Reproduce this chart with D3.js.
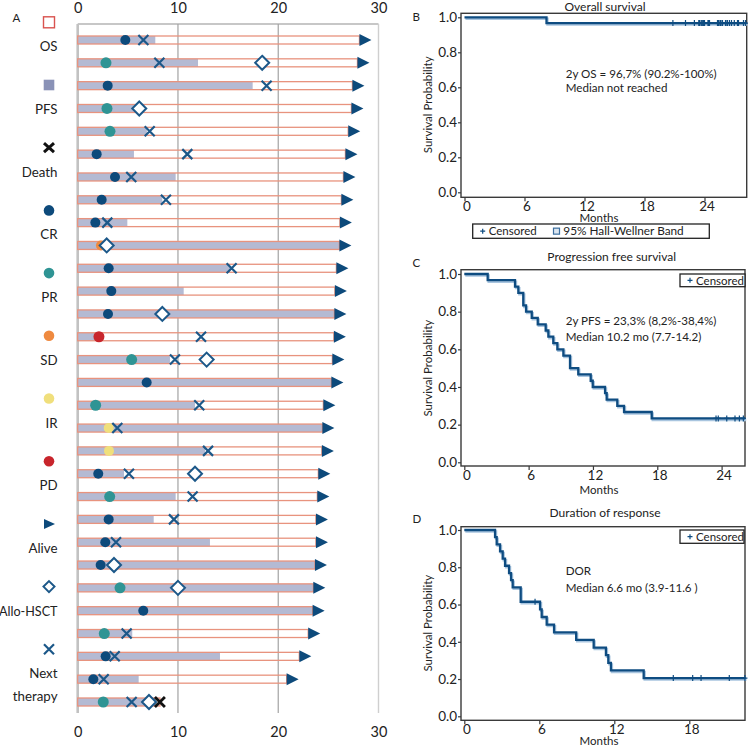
<!DOCTYPE html>
<html><head><meta charset="utf-8">
<script src="https://cdn.jsdelivr.net/npm/d3@7"></script>
<style>
body{margin:0;background:#fff}
svg{display:block}
text{font-family:Lato,"Open Sans",sans-serif;fill:#222}
</style>
</head><body>
<svg id="c" width="750" height="746"></svg>
<script>
// ---------- Swimmer plot data (months) ----------
const osEnd  = [28.1,27.9,27.4,27.3,26.98,26.7,26.5,26.3,26.15,26.1,25.8,25.65,25.6,25.55,25.4,25.3,24.5,24.4,24.35,24.0,23.9,23.76,23.76,23.66,23.5,23.43,22.99,22.1,20.84,8.2];
const pfsEnd = [7.74,12.0,17.45,5.9,6.9,5.61,9.77,8.44,4.95,26.1,15.2,10.57,25.6,1.9,9.2,25.3,11.7,24.4,12.7,4.62,9.77,7.58,13.19,23.66,23.5,23.43,5.44,14.19,6.08,7.87];
const alive  = [1,1,1,1,1,1,1,1,1,1,1,1,1,1,1,1,1,1,1,1,1,1,1,1,1,1,1,1,1,0];
const resp   = ["CR","PR","CR","PR","PR","CR","CR","CR","CR","SD","CR","CR","CR","PD","PR","CR","PR","IR","IR","CR","PR","CR","CR","CR","PR","CR","PR","CR","CR","PR"];
const respT  = [4.75,2.82,2.99,2.92,3.22,1.89,3.72,2.39,1.76,2.32,3.09,3.35,3.02,2.12,5.38,6.88,1.79,3.09,3.12,2.05,3.19,3.09,2.75,2.29,4.22,6.54,2.65,2.79,1.56,2.55];
const nextT  = [6.55,8.14,18.84,null,7.18,10.93,5.34,8.8,2.95,null,15.35,null,null,12.3,9.7,null,12.12,3.95,13.0,5.11,11.46,9.6,3.82,null,null,null,4.88,3.69,2.59,5.38];
const hsctT  = [null,18.4,null,6.14,null,null,null,null,null,2.89,null,null,8.44,null,12.86,null,null,null,null,11.7,null,null,null,3.62,10.0,null,null,null,null,7.11];
const swimTicks = [0,10,20,30];
const legendLabels = ["OS","PFS","Death","CR","PR","SD","IR","PD","Alive","Allo-HSCT","Next|therapy"];

// ---------- Kaplan-Meier data ----------
const osTimes = [0,8.2];
const osSurv  = [1,0.967];
const osCurveEnd = 28.2;
const pfsTimes = [0,2.18,4.73,5.04,5.50,5.76,6.29,6.85,7.59,7.84,8.30,8.68,9.24,9.86,10.63,11.79,11.98,13.13,13.28,14.27,14.9,17.48];
const pfsSurv  = [1,0.967,0.933,0.9,0.833,0.8,0.767,0.733,0.7,0.667,0.633,0.6,0.567,0.5,0.467,0.433,0.4,0.367,0.333,0.3,0.267,0.233];
const pfsCensor = [23.48,23.69,24.48,25.25,25.66,26.03];
const pfsCurveEnd = 26.2;
const dorTimes = [0,2.46,2.59,2.86,3.07,3.26,3.58,3.74,3.87,4.51,6.06,6.19,6.59,7.18,8.95,10.35,11.33,11.52,11.73,14.35];
const dorSurv  = [1,0.962,0.923,0.885,0.846,0.808,0.769,0.731,0.692,0.615,0.574,0.533,0.492,0.451,0.41,0.369,0.328,0.287,0.246,0.205];
const dorCensor = [5.66,16.72,18.27,18.94,21.2,22.45];
const dorCurveEnd = 22.5;
const yTicks = [0,0.2,0.4,0.6,0.8,1.0];

// ---------- styles ----------
const C = {CR:"#0d4a7b",PR:"#2f9494",SD:"#ef8a40",IR:"#f0df7c",PD:"#c8252c"};
const blue = "#1c5889", barCol = "#b4bad3", salmon = "#e8937e", kmBlue = "#0e4c81";

const svg = d3.select("#c");

// ================= Panel A =================
const gA = svg.append("g");
const xS = d3.scaleLinear().domain([0,30]).range([77.7,378.5]);
const yS = d3.scalePoint().domain(d3.range(osEnd.length)).range([40,702]);
const yTop = 24, yBot = 713;

gA.append("line").attr("x1",xS(0)).attr("x2",xS(30)).attr("y1",yTop).attr("y2",yTop)
  .attr("stroke","#b5b5b5").attr("stroke-width",1.5);
swimTicks.forEach(v=>{
  gA.append("line").attr("x1",xS(v)).attr("x2",xS(v)).attr("y1",yTop).attr("y2",yBot)
    .attr("stroke", v===0?"#c2c2c2":(v===30?"#cfcfcf":"#a3a3a3"))
    .attr("stroke-width", v===0?2.6:(v===30?1.4:1.2));
});
const axT = gA.append("g").attr("transform",`translate(0,${yTop})`)
  .call(d3.axisTop(xS).tickValues(swimTicks).tickSize(0).tickPadding(10.7));
const axB = gA.append("g").attr("transform",`translate(0,${yBot})`)
  .call(d3.axisBottom(xS).tickValues(swimTicks).tickSize(0).tickPadding(14));
[axT,axB].forEach(a=>{a.select(".domain").remove();
  a.selectAll("text").attr("font-size",14.5).attr("font-family","Lato,sans-serif").attr("fill","#222");});

const rows = gA.selectAll("g.row").data(d3.range(osEnd.length)).join("g").attr("class","row")
  .attr("transform",i=>`translate(0,${yS(i)})`);
rows.append("rect").attr("x",xS(0)).attr("y",-4).attr("height",8)
  .attr("width",i=>xS(pfsEnd[i])-xS(0)).attr("fill",barCol);
rows.append("rect").attr("x",xS(0)).attr("y",-4).attr("height",8)
  .attr("width",i=>xS(osEnd[i])-xS(0)).attr("fill","none").attr("stroke",salmon).attr("stroke-width",1.3);
rows.filter(i=>alive[i]).append("path")
  .attr("d",i=>{const x=xS(osEnd[i]);return `M${x},-6L${x+12},0L${x},6Z`;}).attr("fill","#0d4a7b");
rows.append("circle").attr("cx",i=>xS(respT[i])).attr("cy",0)
  .attr("r",i=>resp[i]==="PR"||resp[i]==="PD"?5.5:5).attr("fill",i=>C[resp[i]]);
rows.filter(i=>hsctT[i]!==null).append("path")
  .attr("d",i=>{const x=xS(hsctT[i]);return `M${x},-7L${x+7},0L${x},7L${x-7},0Z`;})
  .attr("fill","#fff").attr("stroke",blue).attr("stroke-width",2);
rows.filter(i=>nextT[i]!==null).append("path")
  .attr("d",i=>{const x=xS(nextT[i]);return `M${x-5},-5L${x+5},5M${x-5},5L${x+5},-5`;})
  .attr("stroke",blue).attr("stroke-width",2.2).attr("fill","none");
rows.filter(i=>!alive[i]).append("path")
  .attr("d",i=>{const x=xS(osEnd[i]);return `M${x-5},-5L${x+5},5M${x-5},5L${x+5},-5`;})
  .attr("stroke","#111").attr("stroke-width",2.8).attr("fill","none");

// legend column
const lx = 49;
legendLabels.forEach((lab,k)=>{
  const y = 22.3 + k*62.7;
  const g = gA.append("g");
  if(k===0) g.append("rect").attr("x",lx-5.5).attr("y",y-5.5).attr("width",11).attr("height",11).attr("fill","#fff").attr("stroke","#d9534f").attr("stroke-width",1.4);
  if(k===1) g.append("rect").attr("x",lx-5.3).attr("y",y-5.3).attr("width",10.6).attr("height",10.6).attr("fill","#8a92b7");
  if(k===2) g.append("path").attr("d",`M${lx-5},${y-4.5}L${lx+5},${y+4.5}M${lx-5},${y+4.5}L${lx+5},${y-4.5}`).attr("stroke","#111").attr("stroke-width",3);
  if(k>=3&&k<=7) g.append("circle").attr("cx",lx).attr("cy",y).attr("r",5.3).attr("fill",C[lab]);
  if(k===8) g.append("path").attr("d",`M${lx-5},${y-5}L${lx+6},${y}L${lx-5},${y+5}Z`).attr("fill","#0d4a7b");
  if(k===9) g.append("path").attr("d",`M${lx},${y-5.5}L${lx+5.5},${y}L${lx},${y+5.5}L${lx-5.5},${y}Z`).attr("fill","#fff").attr("stroke",blue).attr("stroke-width",2);
  if(k===10) g.append("path").attr("d",`M${lx-5},${y-5}L${lx+5},${y+5}M${lx-5},${y+5}L${lx+5},${y-5}`).attr("stroke",blue).attr("stroke-width",2.2);
  lab.split("|").forEach((t,j)=>{
    g.append("text").attr("x",57.5).attr("y",y+29+j*22.5).attr("text-anchor","end")
      .attr("font-size", t==="Allo-HSCT"?12.6:13.3).text(t);
  });
});
svg.append("text").attr("x",12.5).attr("y",21.5).attr("font-size",11.5).attr("font-family","Liberation Sans,Arial,sans-serif").text("A");

// ================= KM panels =================
function km(p){
  const g = svg.append("g");
  const x = d3.scaleLinear().domain([0,p.xt[p.xt.length-1]]).range(p.xr);
  const y = d3.scaleLinear().domain([0,1]).range(p.yr);
  const [fl,ft,fr,fb] = p.frame;
  g.append("rect").attr("x",fl).attr("y",ft).attr("width",fr-fl).attr("height",fb-ft)
    .attr("fill","none").attr("stroke","#3a3a3a").attr("stroke-width",1.4);
  const ay = g.append("g").attr("transform",`translate(${fl},0)`)
    .call(d3.axisLeft(y).tickValues(yTicks).tickFormat(d3.format(".1f")).tickSize(3).tickPadding(1));
  const ax = g.append("g").attr("transform",`translate(0,${fb})`)
    .call(d3.axisBottom(x).tickValues(p.xt).tickSize(4).tickPadding(0));
  ax.selectAll("text").attr("dx",2);
  [ax,ay].forEach(a=>{a.select(".domain").remove();
    a.selectAll("line").attr("stroke","#3a3a3a").attr("stroke-width",1.2);
    a.selectAll("text").attr("font-size",13.5).attr("font-family","Lato,sans-serif").attr("fill","#222");});
  g.append("text").attr("x",599).attr("y",p.monthsY).attr("text-anchor","middle").attr("font-size",11.5).text("Months");
  g.append("text").attr("transform",`translate(432,${(p.yr[0]+p.yr[1])/2}) rotate(-90)`)
    .attr("text-anchor","middle").attr("font-size",11.5).text("Survival Probability");
  g.append("text").attr("x",p.titleX).attr("y",p.titleY).attr("text-anchor","middle").attr("font-size",12).text(p.title);
  g.append("text").attr("x",412.5).attr("y",p.letterY).attr("font-size",11.5)
    .attr("font-family","Liberation Sans,Arial,sans-serif").text(p.letter);
  const pts = p.t.map((t,i)=>[t,p.s[i]]).concat([[p.end,p.s[p.s.length-1]]]);
  const line = d3.line().x(d=>x(d[0])).y(d=>y(d[1])).curve(d3.curveStepAfter);
  g.append("path").attr("d",line(pts)).attr("fill","none").attr("stroke","#a9c5df").attr("stroke-width",2.4)
    .attr("transform","translate(1,1.5)");
  g.append("path").attr("d",line(pts)).attr("fill","none").attr("stroke",kmBlue).attr("stroke-width",2.3);
  const bis = d3.bisector(d=>d).right;
  const lvl = c => p.s[Math.max(0,bis(p.t,c)-1)];
  g.selectAll("path.cens").data(p.cens).join("path").attr("class","cens")
    .attr("d",c=>`M${x(c)-2.5},${y(lvl(c))}h5M${x(c)},${y(lvl(c))-3}v6`)
    .attr("stroke",kmBlue).attr("stroke-width",1.2);
  p.notes.forEach((n,j)=>g.append("text").attr("x",565.7).attr("y",p.noteY+j*p.noteDy).attr("font-size",11.6).text(n));
  // legend
  const [bx,by,bw,bh] = p.leg;
  g.append("rect").attr("x",bx).attr("y",by).attr("width",bw).attr("height",bh)
    .attr("fill","#fff").attr("stroke","#222").attr("stroke-width",1.3);
  g.append("path").attr("d",`M${bx+7.5},${by+bh/2}h5M${bx+10},${by+bh/2-2.5}v5`).attr("stroke",kmBlue).attr("stroke-width",1.2);
  g.append("text").attr("x",bx+16).attr("y",by+bh/2+4.2).attr("font-size",11.5).text("Censored");
  if(p.band){
    g.append("rect").attr("x",553.5).attr("y",by+bh/2-3).attr("width",6).attr("height",6)
      .attr("fill","#dce6f0").attr("stroke","#3d6f9f").attr("stroke-width",1.2);
    g.append("text").attr("x",563.3).attr("y",by+bh/2+4.2).attr("font-size",11.8).text("95% Hall-Wellner Band");
  }
}

const osCensorTimes = osEnd.filter((v,i)=>alive[i]);

km({letter:"B",letterY:20.7,title:"Overall survival",titleX:605,titleY:10.5,
  xt:[0,6,12,18,24],xr:[464.5,704.5],yr:[192.3,17.3],frame:[461,13.3,746.7,197.3],monthsY:221.8,
  t:osTimes,s:osSurv,end:osCurveEnd,cens:osCensorTimes,
  notes:["2y OS = 96,7% (90.2%-100%)","Median not reached"],noteY:77.5,noteDy:14.8,
  leg:[472.7,224,236.6,14.3],band:true});
km({letter:"C",letterY:267.3,title:"Progression free survival",titleX:611.7,titleY:261,
  xt:[0,6,12,18,24],xr:[464.3,721.6],yr:[462.3,274],frame:[461,269.7,745,466],monthsY:494,
  t:pfsTimes,s:pfsSurv,end:pfsCurveEnd,cens:pfsCensor,
  notes:["2y PFS = 23,3% (8,2%-38,4%)","Median 10.2 mo (7.7-14.2)"],noteY:324.5,noteDy:16,
  leg:[680,274,65,12.7],band:false});
km({letter:"D",letterY:522.7,title:"Duration of response",titleX:605,titleY:517,
  xt:[0,6,12,18],xr:[464.3,689.3],yr:[716.3,530],frame:[461,526.7,745,720.3],monthsY:745.3,
  t:dorTimes,s:dorSurv,end:dorCurveEnd,cens:dorCensor,
  notes:["DOR","Median 6.6 mo (3.9-11.6 )"],noteY:575,noteDy:17,
  leg:[680,530,64,13.3],band:false});
</script>
</body></html>
